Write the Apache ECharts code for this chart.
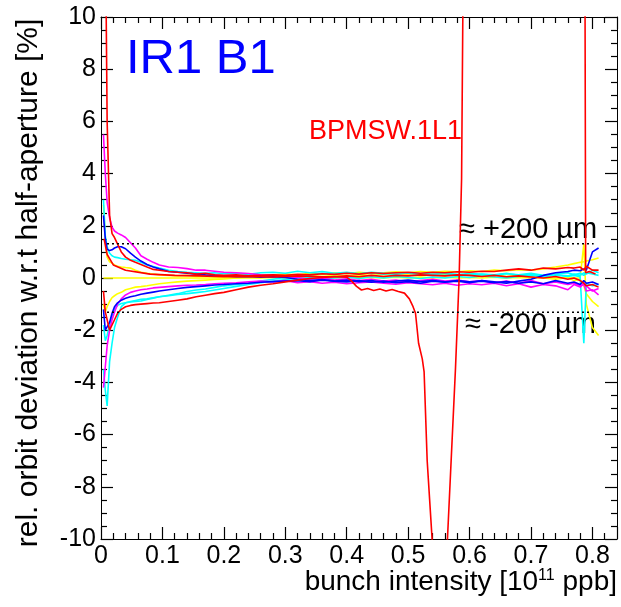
<!DOCTYPE html>
<html>
<head>
<meta charset="utf-8">
<script src="https://cdn.jsdelivr.net/npm/echarts@6/dist/echarts.min.js"></script>
<style>html,body{margin:0;padding:0;background:#fff}#c{width:621px;height:607px}</style>
</head>
<body>
<div id="c"></div>
<script>
// Shared x grid: bunch intensity [1e11 ppb]
const intensity = [0.004,0.007,0.010,0.014,0.018,0.022,0.027,0.033,0.040,0.048,
  0.056,0.065,0.075,0.085,0.095,0.11,0.125,0.14,0.155,0.17,
  0.185,0.20,0.22,0.24,0.26,0.28,0.30,0.32,0.34,0.36,
  0.38,0.40,0.42,0.44,0.46,0.48,0.50,0.52,0.54,0.56,
  0.58,0.60,0.62,0.64,0.66,0.68,0.70,0.72,0.74,0.76,
  0.77,0.78,0.786,0.79,0.80,0.81];

const magentaUpper = [5.5,4.0,2.9,2.3,1.95,1.8,1.72,1.65,1.55,1.35,
  1.15,0.85,0.72,0.6,0.5,0.42,0.4,0.36,0.3,0.3,
  0.26,0.22,0.2,0.17,0.12,0.1,0.06,0.02,-0.05,0.0,
  -0.08,-0.03,-0.1,-0.05,-0.12,-0.08,-0.15,-0.1,-0.05,-0.12,
  -0.08,-0.15,-0.1,-0.18,-0.12,-0.2,-0.1,-0.22,-0.15,-0.25,
  -0.2,-0.3,-0.25,-0.5,-0.45,-0.65];
const blueUpper = [2.4,1.5,1.1,1.05,1.08,1.15,1.2,1.2,1.12,0.95,
  0.8,0.65,0.52,0.42,0.35,0.25,0.22,0.18,0.15,0.12,
  0.1,0.08,0.05,0.06,0.03,0.05,0.02,-0.05,-0.1,-0.06,
  -0.12,-0.08,-0.14,-0.1,-0.16,-0.12,-0.08,-0.14,-0.1,-0.15,
  -0.12,-0.18,-0.1,-0.15,-0.2,-0.12,-0.05,0.1,0.2,0.25,
  0.3,0.28,0.35,0.3,1.0,1.15];
const redUpper = [25,14,6.0,2.4,1.7,1.55,1.3,1.0,0.8,0.68,
  0.6,0.52,0.42,0.33,0.3,0.25,0.22,0.2,0.15,0.18,
  0.12,0.1,0.12,0.08,0.1,0.12,0.1,0.14,0.12,0.16,
  0.14,0.18,0.15,0.2,0.17,0.2,0.22,0.18,0.22,0.2,
  0.24,0.22,0.26,0.25,0.3,0.35,0.3,0.38,0.35,0.4,
  0.38,0.42,0.3,0.45,0.3,0.3];
const cyanUpper = [3.0,1.6,1.2,0.95,0.85,0.8,0.78,0.75,0.72,0.7,
  0.68,0.6,0.5,0.44,0.38,0.3,0.25,0.22,0.2,0.18,
  0.2,0.16,0.18,0.14,0.2,0.22,0.18,0.26,0.2,0.25,
  0.18,0.22,0.16,0.2,0.15,0.2,0.18,0.14,0.2,0.16,
  0.12,0.18,0.14,0.1,0.16,0.12,0.18,0.1,0.15,0.2,
  0.12,0.18,0.1,0.2,0.15,0.1];
const yellowUpper = [2.8,1.5,0.8,0.62,0.57,0.5,0.45,0.42,0.4,0.38,
  0.3,0.22,0.18,0.15,0.12,0.1,0.08,0.1,0.06,0.08,
  0.05,0.06,0.04,0.06,0.1,0.12,0.15,0.12,0.18,0.14,
  0.2,0.16,0.22,0.18,0.2,0.24,0.2,0.25,0.22,0.26,
  0.24,0.28,0.25,0.3,0.28,0.32,0.3,0.35,0.42,0.5,
  0.55,0.6,0.62,0.65,0.7,0.77];
const yellowZero = [0,0,0,0,0,0,0,0,0,0,
  0,0,0,0,0,0,0,0,0,0,
  0,0,0,0,0,0.02,0,0.03,0,0.02,
  0,0.03,0,0.02,0,0.03,0,0.02,0,0.03,
  0,0.02,0,0.03,0,0.02,0,0.03,0,0.02,
  0,0,1.3,-1.0,-1.9,-2.2];
const yellowLower = [-1.0,-1.3,-1.1,-0.9,-0.75,-0.68,-0.6,-0.55,-0.45,-0.4,
  -0.35,-0.33,-0.3,-0.26,-0.22,-0.18,-0.15,-0.12,-0.1,-0.08,
  -0.06,-0.04,0.0,0.04,0.02,0.06,0.08,0.05,0.1,0.06,
  0.1,0.08,0.12,0.1,0.14,0.1,0.12,0.08,0.12,0.15,
  0.1,0.14,0.1,0.12,0.06,0.1,0.05,0.0,-0.05,0.02,
  -0.1,-0.05,-0.3,-0.6,-0.9,-1.1];
const magentaLower = [-4.2,-3.4,-2.6,-2.0,-1.6,-1.3,-1.0,-0.8,-0.65,-0.55,
  -0.5,-0.45,-0.42,-0.38,-0.36,-0.33,-0.3,-0.28,-0.27,-0.25,
  -0.22,-0.2,-0.18,-0.15,-0.12,-0.15,-0.1,-0.18,-0.14,-0.2,
  -0.16,-0.22,-0.18,-0.15,-0.2,-0.24,-0.18,-0.22,-0.26,-0.2,
  -0.28,-0.22,-0.26,-0.2,-0.3,-0.22,-0.35,-0.25,-0.3,-0.45,
  -0.25,-0.35,-0.2,-0.3,-0.5,-0.4];
const blueLower = [-1.2,-2.0,-2.0,-1.7,-1.35,-1.1,-0.95,-0.85,-0.78,-0.72,
  -0.68,-0.62,-0.58,-0.54,-0.5,-0.45,-0.4,-0.36,-0.33,-0.3,
  -0.27,-0.25,-0.22,-0.2,-0.16,-0.14,-0.12,-0.1,-0.14,-0.08,
  -0.12,-0.15,-0.1,-0.16,-0.12,-0.18,-0.14,-0.2,-0.12,-0.16,
  -0.1,-0.15,-0.12,-0.18,-0.14,-0.2,-0.15,-0.22,-0.1,-0.2,
  -0.15,-0.25,-0.1,-0.2,-0.15,-0.25];
const cyanLowerDeep = [-3.5,-4.3,-4.9,-3.2,-2.5,-1.9,-1.5,-1.1,-0.95,-0.9,
  -0.86,-0.82,-0.8,-0.76,-0.72,-0.66,-0.6,-0.52,-0.46,-0.42,
  -0.36,-0.3,-0.25,-0.2,-0.12,-0.05,0.02,0.08,0.12,0.18,
  0.14,0.2,0.16,0.22,0.18,0.14,0.2,0.16,0.12,0.18,
  0.14,0.1,0.15,0.12,0.18,0.1,0.14,0.08,0.12,0.06,
  0.1,0.05,-2.5,-0.2,-0.3,-0.25];
const cyanLower = [-1.8,-2.4,-2.2,-1.8,-1.45,-1.2,-1.05,-0.98,-0.95,-0.92,
  -0.9,-0.88,-0.82,-0.77,-0.72,-0.68,-0.63,-0.6,-0.56,-0.52,
  -0.46,-0.4,-0.32,-0.25,-0.18,-0.12,-0.06,-0.02,0.02,-0.04,
  0.0,0.04,-0.02,0.05,0.0,0.06,0.02,-0.02,0.04,0.0,
  0.06,0.02,0.08,0.04,0.0,0.06,0.1,0.05,0.12,0.08,
  0.15,0.1,0.2,0.15,0.3,0.2];
const redLower = [-0.5,-1.3,-1.6,-2.0,-1.8,-1.6,-1.35,-1.2,-1.1,-1.05,
  -1.02,-1.0,-0.98,-0.96,-0.95,-0.9,-0.85,-0.8,-0.72,-0.66,
  -0.6,-0.55,-0.45,-0.35,-0.28,-0.22,-0.15,-0.08,-0.02,0.02,
  0.05,0.08,0.05,0.1,0.06,0.1,0.08,0.12,0.1,0.08,
  0.12,0.1,0.06,0.1,0.05,0.08,0.04,0.0,0.06,-0.05,
  0.0,-0.1,-0.2,-0.3,-0.25,-0.35];

// BPMSW.1L1 trace (own sampling); values beyond ±10 are off scale
const bpmX = [0.005,0.01,0.02,0.04,0.08,0.12,0.16,0.20,0.24,0.28,
  0.32,0.36,0.38,0.40,0.408,0.416,0.424,0.434,0.444,0.454,
  0.464,0.474,0.484,0.494,0.502,0.508,0.512,0.517,0.523,0.526,
  0.531,0.535,0.539,0.545,0.558,0.564,0.569,0.577,0.583,0.587,
  0.589,0.592,0.786,0.789,0.795,0.805];
const bpmY = [1.5,0.9,0.5,0.3,0.15,0.1,0.08,0.05,0.06,0.04,
  0.08,0.05,0.05,0.03,-0.12,-0.32,-0.46,-0.4,-0.48,-0.42,
  -0.5,-0.44,-0.52,-0.58,-0.8,-1.1,-1.35,-2.5,-3.1,-3.6,
  -7.0,-8.5,-10,-30,-30,-10,-7.5,-3.5,0,3.8,
  10,30,30,0.2,0.25,0.15];

// ±200 µm reference lines
const refX = [0.0098, 0.802];
const refLevel = 1.31;

const RED='#ff0000', MAG='#ff00ff', BLUE='#0000ff', CYAN='#00ffff', YEL='#ffff00';
const traces = [
  [yellowZero, YEL], [yellowLower, YEL], [yellowUpper, YEL],
  [cyanLower, CYAN], [cyanLowerDeep, CYAN], [cyanUpper, CYAN],
  [magentaLower, MAG], [magentaUpper, MAG],
  [blueLower, BLUE], [blueUpper, BLUE],
  [redLower, RED], [redUpper, RED]
];

const FONT = '"Liberation Sans", Arial, Helvetica, sans-serif';
const series = traces.map(([arr, col]) => ({
  type: 'line', xAxisIndex: 0, yAxisIndex: 0, showSymbol: false, symbol: 'none',
  clip: true, animation: false,
  lineStyle: { color: col, width: 1.6 },
  data: intensity.map((x, i) => [x, arr[i]])
}));
series.push({
  type: 'line', showSymbol: false, symbol: 'none', clip: true, animation: false,
  lineStyle: { color: RED, width: 1.6 },
  data: bpmX.map((x, i) => [x, bpmY[i]])
});
[refLevel, -refLevel].forEach(v => series.push({
  type: 'line', showSymbol: false, symbol: 'none', animation: false,
  lineStyle: { color: '#000', width: 1.6, type: [2, 3] },
  data: refX.map(x => [x, v])
}));

const chart = echarts.init(document.getElementById('c'), null, { renderer: 'canvas' });
const tickCommon = {
  axisLine: { show: true, onZero: false, lineStyle: { color: '#000', width: 1 } },
  axisTick: { show: true, inside: true, length: 12, lineStyle: { color: '#000', width: 1.2 } },
  minorTick: { show: true, length: 6, lineStyle: { color: '#000', width: 1.2 } },
  splitLine: { show: false }
};
chart.setOption({
  animation: false,
  backgroundColor: '#fff',
  grid: { left: 101, top: 17, right: 4, bottom: 68, containLabel: false, outerBoundsMode: 'none',
    show: false },
  xAxis: [
    Object.assign({
      type: 'value', min: 0, max: 0.84, interval: 0.1, position: 'bottom',
      axisLabel: { show: true, color: '#000', fontSize: 25, fontFamily: FONT, margin: 5, showMaxLabel: false,
        formatter: v => (v === 0 ? '0' : v.toFixed(1)) }
    }, tickCommon, { minorTick: Object.assign({}, tickCommon.minorTick, { splitNumber: 5 }) }),
    Object.assign({
      type: 'value', min: 0, max: 0.84, interval: 0.1, position: 'top',
      axisLabel: { show: false }
    }, tickCommon, { minorTick: Object.assign({}, tickCommon.minorTick, { splitNumber: 5 }) })
  ],
  yAxis: [
    Object.assign({
      type: 'value', min: -10, max: 10, interval: 2, position: 'left',
      axisLabel: { show: true, color: '#000', fontSize: 25, fontFamily: FONT, margin: 5 },
      name: 'rel. orbit deviation w.r.t half-aperture [%]', nameLocation: 'middle', nameGap: 57, nameRotate: 90,
      nameTextStyle: { color: '#000', fontSize: 30, fontFamily: FONT, padding: [0, 10, 0, 0] }
    }, tickCommon, { minorTick: Object.assign({}, tickCommon.minorTick, { splitNumber: 4 }) }),
    Object.assign({
      type: 'value', min: -10, max: 10, interval: 2, position: 'right',
      axisLabel: { show: false }
    }, tickCommon, { minorTick: Object.assign({}, tickCommon.minorTick, { splitNumber: 4 }) })
  ],
  graphic: [
    { type: 'text', left: 126, top: 35, style: { text: 'IR1 B1', fill: BLUE, font: '49px ' + FONT } },
    { type: 'text', left: 309, top: 118, style: { text: 'BPMSW.1L1', fill: RED, font: '27px ' + FONT } },
    { type: 'text', left: 459, top: 215, style: { text: '≈ +200 µm', fill: '#000', font: '29px ' + FONT } },
    { type: 'text', left: 465, top: 310, style: { text: '≈ -200 µm', fill: '#000', font: '29px ' + FONT } },
    { type: 'text', x: 617, y: 568, style: {
        text: 'bunch intensity [10{sup|11} ppb]', fill: '#000', fontSize: 28, fontFamily: FONT, lineHeight: 28,
        align: 'right', verticalAlign: 'top',
        rich: { sup: { fontSize: 16, fontFamily: FONT, fill: '#000', lineHeight: 16, verticalAlign: 'top' } } } }
  ],
  series: series
});
</script>
</body>
</html>
